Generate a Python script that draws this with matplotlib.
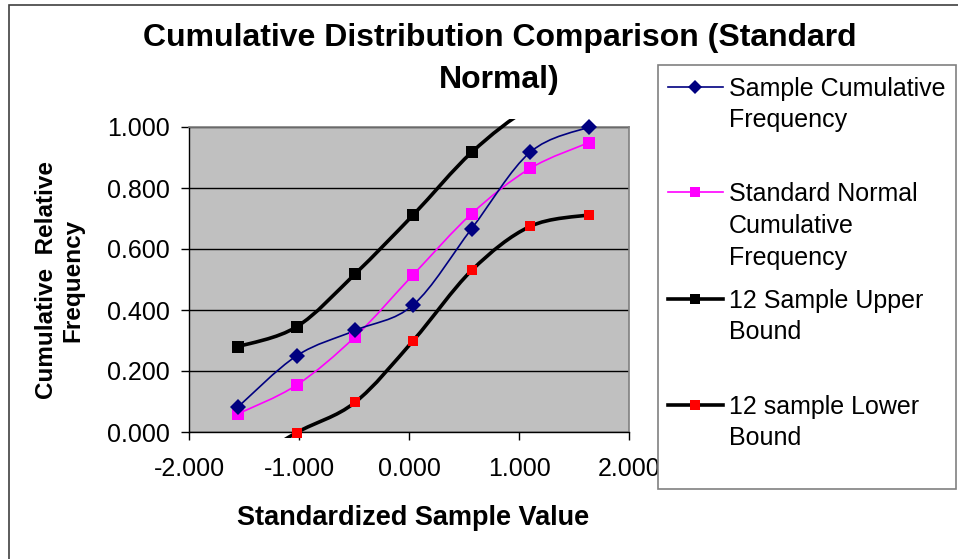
import numpy as np
import matplotlib
matplotlib.use("Agg")
import matplotlib.pyplot as plt
from matplotlib.path import Path
from matplotlib.patches import PathPatch, Rectangle
from matplotlib.lines import Line2D
from matplotlib.transforms import Bbox, TransformedBbox

plt.rcParams['font.family'] = ['Liberation Sans', 'DejaVu Sans']

# data
z_values = [-1.552, -1.021, -0.491, 0.039, 0.570, 1.100, 1.636]
sample_cum = [0.083, 0.250, 0.333, 0.417, 0.667, 0.917, 1.000]
normal_cum = [0.060, 0.154, 0.312, 0.516, 0.716, 0.864, 0.949]
upper_bound = [0.280, 0.345, 0.518, 0.712, 0.917, 1.064, 1.149]
lower_bound = [-0.120, -0.002, 0.097, 0.300, 0.530, 0.674, 0.712]

x_ticks = [-2, -1, 0, 1, 2]
y_ticks = [0.0, 0.2, 0.4, 0.6, 0.8, 1.0]

W, H = 958, 559
fig = plt.figure(figsize=(W / 100, H / 100), dpi=100)

def fx(px):
    return px / W

def fy(py):
    return 1 - py / H

# outer chart border
fig.patches.append(Rectangle((fx(9), fy(H + 10)), fx(W + 10) - fx(9), fy(5) - fy(H + 10),
                             transform=fig.transFigure, fill=False,
                             edgecolor='#404040', lw=1.2))

ax = fig.add_axes([fx(189), fy(432), fx(629) - fx(189), fy(127) - fy(432)])
ax.set_facecolor('#C0C0C0')
ax.set_xlim(-2, 2)
ax.set_ylim(0, 1)
ax.set_xticks(x_ticks)
ax.set_yticks(y_ticks)
ax.set_xticklabels(['%.3f' % v for v in x_ticks])
ax.set_yticklabels(['%.3f' % v for v in y_ticks])
ax.tick_params(axis='both', direction='out', length=6, width=1, labelsize=18, colors='black')
ax.tick_params(axis='y', pad=8)
ax.tick_params(axis='x', pad=12)
ax.grid(axis='y', color='black', lw=1)
ax.set_axisbelow(True)
for s in ['top', 'right']:
    ax.spines[s].set_color('#808080')
    ax.spines[s].set_linewidth(1.2)
for s in ['left', 'bottom']:
    ax.spines[s].set_color('black')
    ax.spines[s].set_linewidth(1)

# Excel-like clipping region (a bit bigger than the plot area)
clip = TransformedBbox(Bbox([[-2.0, -0.02], [2.0, 1.025]]), ax.transData)


def smooth_path(xs, ys):
    # catmull-rom style bezier through the points, like Excel smoothed lines
    pts = np.column_stack([xs, ys])
    n = len(pts)
    verts = [pts[0]]
    codes = [Path.MOVETO]
    for i in range(n - 1):
        p0 = pts[max(i - 1, 0)]
        p1 = pts[i]
        p2 = pts[i + 1]
        p3 = pts[min(i + 2, n - 1)]
        c1 = p1 + (p2 - p0) / 6.0
        c2 = p2 - (p3 - p1) / 6.0
        verts += [c1, c2, p2]
        codes += [Path.CURVE4] * 3
    return Path(verts, codes)


def draw_series(ys, color, lw, marker, mcolor, ms):
    patch = PathPatch(smooth_path(z_values, ys), fill=False, edgecolor=color, lw=lw,
                      capstyle='round', joinstyle='round', zorder=3)
    ax.add_patch(patch)
    patch.set_clip_box(clip)
    pts, = ax.plot(z_values, ys, linestyle='none', marker=marker, color=mcolor,
                   markersize=ms, markeredgewidth=0, zorder=4)
    pts.set_clip_box(clip)


draw_series(upper_bound, 'black', 2.6, 's', 'black', 8)
draw_series(lower_bound, 'black', 2.6, 's', '#FF0000', 7.5)
draw_series(normal_cum, '#FF00FF', 1.2, 's', '#FF00FF', 9)
draw_series(sample_cum, '#000080', 1.2, 'D', '#000080', 8.5)

# titles
fig.text(fx(500), fy(38), 'Cumulative Distribution Comparison (Standard',
         ha='center', va='center', fontsize=23, fontweight='bold')
fig.text(fx(499), fy(80), 'Normal)',
         ha='center', va='center', fontsize=23, fontweight='bold')
fig.text(fx(60), fy(280), 'Cumulative  Relative\nFrequency', rotation=90,
         ha='center', va='center', fontsize=17.5, fontweight='bold', linespacing=1.2)
fig.text(fx(413), fy(518), 'Standardized Sample Value', ha='center', va='center',
         fontsize=19.5, fontweight='bold')

# legend box, Excel style (marker aligned with first text line)
fig.patches.append(Rectangle((fx(658), fy(489)), fx(956) - fx(658), fy(65) - fy(489),
                             transform=fig.transFigure, facecolor='white',
                             edgecolor='#808080', lw=1.2))
legend_items = [
    (['Sample Cumulative', 'Frequency'], [87, 118], '#000080', 1.2, 'D', '#000080', 7),
    (['Standard Normal', 'Cumulative', 'Frequency'], [192, 224, 256],
     '#FF00FF', 1.2, 's', '#FF00FF', 7.5),
    (['12 Sample Upper', 'Bound'], [299, 330], 'black', 2.6, 's', 'black', 7),
    (['12 sample Lower', 'Bound'], [405, 436], 'black', 2.6, 's', '#FF0000', 7),
]
for lines, ys, col, lw, mk, mcol, ms in legend_items:
    ly = ys[0]
    fig.add_artist(Line2D([fx(668), fx(723)], [fy(ly), fy(ly)], transform=fig.transFigure,
                          color=col, lw=lw))
    fig.add_artist(Line2D([fx(695)], [fy(ly)], transform=fig.transFigure, marker=mk,
                          color=mcol, markersize=ms, markeredgewidth=0, linestyle='none'))
    for txt, ty in zip(lines, ys):
        fig.text(fx(729), fy(ty + 2), txt, ha='left', va='center', fontsize=18)

fig.savefig('out.png', dpi=100)
